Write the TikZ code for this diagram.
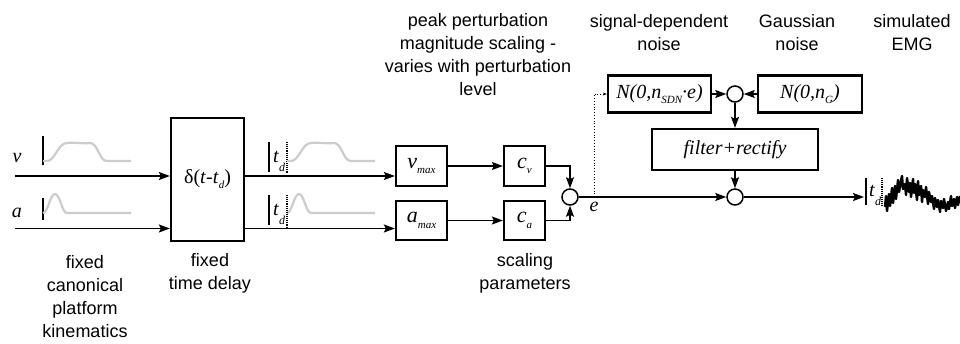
\documentclass[tikz,border=0pt]{standalone}
\usepackage{fontspec}
\setmainfont{Liberation Sans}
\newfontfamily\tms{Liberation Serif}
\usetikzlibrary{arrows.meta,calc}
\newcommand{\sbs}[1]{\raisebox{-0.55ex}{\itshape\fontsize{11}{11}\selectfont #1}}
\begin{document}
\begin{tikzpicture}[x=1pt,y=-1pt,
  box/.style={draw,line width=2.3pt,inner sep=0pt,font=\tms\itshape\fontsize{20}{20}\selectfont},
  sumc/.style={draw,circle,line width=1.5pt,minimum size=16pt,inner sep=0pt},
  conn/.style={line width=1.6pt,-{Stealth[length=11pt,width=8pt,inset=2pt]}},
  lbl/.style={align=center,inner sep=0pt,font=\fontsize{18}{23}\selectfont},
  mth/.style={inner sep=0pt,font=\tms\itshape\fontsize{20}{20}\selectfont},
  kin/.style={line width=2.2pt,gray!40,line join=round},
  bar/.style={line width=1.2pt},
  dbar/.style={line width=1.1pt,densely dotted},
  emg/.style={line width=2.4pt,line join=round}]
\useasboundingbox (0,0) rectangle (960,343);

% labels
\node[lbl] (l1) at (85,296.5) {fixed\\canonical\\platform\\kinematics};
\node[lbl] (l2) at (210,273.5) {fixed\\time delay};
\node[lbl] (l3) at (525,273.5) {scaling\\parameters};
\node[lbl] (l4) at (478,55) {peak perturbation\\magnitude scaling -\\varies with perturbation\\level};
\node[lbl] (l5) at (659,32.5) {signal-dependent\\noise};
\node[lbl] (l6) at (797,32.5) {Gaussian\\noise};
\node[lbl] (l7) at (912,32.5) {simulated\\EMG};

% boxes
\node[box,minimum width=73pt,minimum height=123pt] (delay) at (207.5,179.5) {\upshape δ(\textit{t}-\textit{t}\sbs{d})};
\node[box,minimum width=51pt,minimum height=40pt] (vmax) at (421.5,166) {\fontsize{22}{22}\selectfont v\sbs{max}};
\node[box,minimum width=51pt,minimum height=39pt] (amax) at (421.5,220.5) {\fontsize{22}{22}\selectfont a\sbs{max}};
\node[box,minimum width=41pt,minimum height=40pt] (cv) at (524.5,166) {\fontsize{22}{22}\selectfont c\sbs{v}};
\node[box,minimum width=41pt,minimum height=39pt] (ca) at (524.5,220.5) {\fontsize{22}{22}\selectfont c\sbs{a}};
\node[sumc] (s1) at (570,197) {};
\node[sumc] (s2) at (735,197) {};
\node[sumc] (s3) at (735,94) {};
\node[box,minimum width=103pt,minimum height=37pt] (nsdn) at (659.5,94) {N(0,n\sbs{SDN}·e)};
\node[box,minimum width=104pt,minimum height=37pt] (ng) at (810,94) {N(0,n\sbs{G})};
\node[box,minimum width=166pt,minimum height=41pt] (filt) at (735,149.5) {filter+rectify};

% input labels
\node[mth] (v) at (17,158) {v};
\node[mth] (a) at (17,213) {a};
\node[mth] (e) at (594,207) {e};

% coordinates
\coordinate (vin) at (15,176);
\coordinate (ain) at (15,228.5);
\coordinate (ep) at (594,197);
\coordinate (out) at (864,197);

% connectors
\draw[conn] (vin) -- (vin -| delay.west);
\draw[conn] (ain) -- (ain -| delay.west);
\draw[conn] (vin -| delay.east) -- (vin -| vmax.west);
\draw[conn] (ain -| delay.east) -- (ain -| amax.west);
\draw[conn] (vmax) -- (cv);
\draw[conn] (amax) -- (ca);
\draw[conn] (cv.east) -| (s1.north);
\draw[conn] (ca.east) -| (s1.south);
\draw[conn] (s1) -- (s2);
\draw[line width=0.8pt,dotted,-{Stealth[length=4pt,width=3pt]}] (ep) |- (nsdn.west);
\draw[conn] (nsdn) -- (s3);
\draw[conn] (ng) -- (s3);
\draw[conn] (s3) -- (filt);
\draw[conn] (filt) -- (s2);
\draw[conn] (s2) -- (out);

% input kinematics
\draw[bar] (43,136) -- (43,165);
\draw[kin] (43,161) -- (47,161) .. controls (55,161) and (58,143) .. (67,143) .. controls (75,142) and (82,144) .. (90,143) .. controls (98,143) and (99,161) .. (107,161) -- (131,161);
\draw[bar] (43,198) -- (43,220);
\draw[kin] (43,213) .. controls (48,213) and (50,194) .. (55,194) .. controls (60,194) and (62,213) .. (67,213) -- (131,213);

% delayed kinematics
\draw[bar] (269,142) -- (269,172);
\draw[dbar] (287,142) -- (287,173);
\node[mth] (td1) at (276,157) {t};
\node[mth,font=\tms\itshape\fontsize{12}{12}\selectfont] (td1s) at (282,167) {d};
\begin{scope}[shift={(244,0)}]
\draw[kin] (43,161) -- (47,161) .. controls (55,161) and (58,143) .. (67,143) .. controls (75,142) and (82,144) .. (90,143) .. controls (98,143) and (99,161) .. (107,161) -- (131,161);
\draw[kin] (43,213) .. controls (48,213) and (50,194) .. (55,194) .. controls (60,194) and (62,213) .. (67,213) -- (131,213);
\end{scope}
\draw[bar] (269,195) -- (269,225);
\draw[dbar] (287,195) -- (287,227);
\node[mth] (td2) at (276,210) {t};
\node[mth,font=\tms\itshape\fontsize{12}{12}\selectfont] (td2s) at (282,220) {d};

% simulated EMG
\draw[bar] (866,178) -- (866,205);
\draw[dbar] (882,178) -- (882,207);
\node[mth] (td3) at (872,191) {t};
\node[mth,font=\tms\itshape\fontsize{12}{12}\selectfont] (td3s) at (878,201) {d};
\draw[emg] (885,207) -- (886,196) -- (887,211) -- (889,194) -- (890,206) -- (892,188) -- (893,203) -- (895,186) -- (896,199) -- (898,180) -- (899,192) -- (901,181) -- (902,176) -- (903,189) -- (905,184) -- (906,195) -- (907,178) -- (909,192) -- (910,183) -- (911,197) -- (913,179) -- (914,193) -- (915,184) -- (917,200) -- (918,181) -- (919,195) -- (921,186) -- (922,202) -- (923,190) -- (925,197) -- (926,187) -- (928,204) -- (929,192) -- (931,202) -- (932,196) -- (934,209) -- (935,198) -- (937,207) -- (938,200) -- (940,212) -- (941,201) -- (943,208) -- (944,199) -- (946,211) -- (948,202) -- (949,209) -- (951,196) -- (952,206) -- (954,199) -- (955,208) -- (957,197) -- (958,205) -- (960,196);
\end{tikzpicture}
\end{document}
